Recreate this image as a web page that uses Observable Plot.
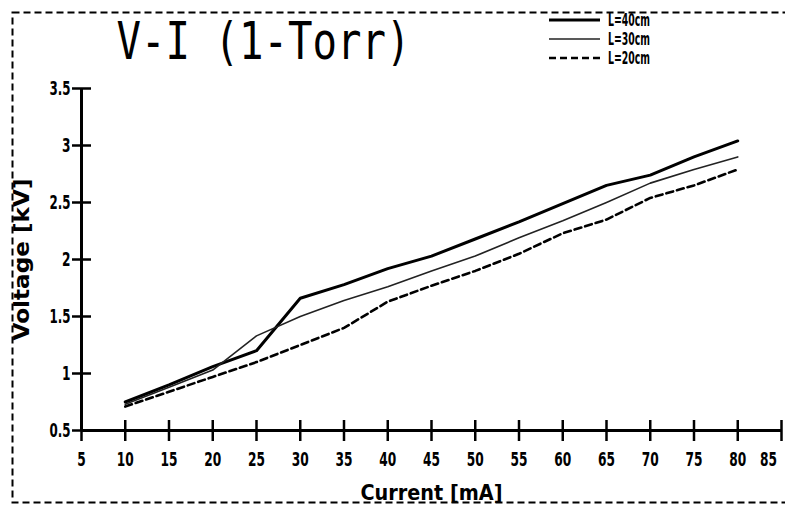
<!DOCTYPE html>
<html>
<head>
<meta charset="utf-8">
<script src="https://cdn.jsdelivr.net/npm/d3@7"></script>
<script src="https://cdn.jsdelivr.net/npm/@observablehq/plot@0.6"></script>
<style>
  html, body { margin: 0; padding: 0; background: #fff; }
  #chart { position: relative; width: 785px; height: 506px; }
</style>
</head>
<body>
<div id="chart"></div>
<script>
const currents = [10, 15, 20, 25, 30, 35, 40, 45, 50, 55, 60, 65, 70, 75, 80];
const v40 = [0.75, 0.90, 1.06, 1.20, 1.66, 1.78, 1.92, 2.03, 2.18, 2.33, 2.49, 2.65, 2.74, 2.90, 3.04];
const v30 = [0.73, 0.88, 1.03, 1.33, 1.50, 1.64, 1.76, 1.90, 2.03, 2.19, 2.34, 2.50, 2.67, 2.79, 2.90];
const v20 = [0.71, 0.84, 0.97, 1.10, 1.25, 1.40, 1.63, 1.77, 1.90, 2.05, 2.23, 2.35, 2.54, 2.65, 2.79];
const seriesNames = ["L=40cm", "L=30cm", "L=20cm"];
const xTicks = [5, 10, 15, 20, 25, 30, 35, 40, 45, 50, 55, 60, 65, 70, 75, 80, 85];
const yTicks = [0.5, 1, 1.5, 2, 2.5, 3, 3.5];
const titleText = "V-I (1-Torr)";
const xLabel = "Current [mA]";
const yLabel = "Voltage [kV]";

const styles = {
  "L=40cm": {strokeWidth: 3, stroke: "#000", dash: null},
  "L=30cm": {strokeWidth: 1.6, stroke: "#222", dash: null},
  "L=20cm": {strokeWidth: 2.6, stroke: "#000", dash: "7,4"}
};
const valuesBySeries = {"L=40cm": v40, "L=30cm": v30, "L=20cm": v20};
const rows = name => currents.map((c, i) => ({current: c, voltage: valuesBySeries[name][i], series: name}));

const boldFont = "'DejaVu Sans', sans-serif";

const plot = Plot.plot({
  width: 785,
  height: 506,
  marginLeft: 81,
  marginRight: 4,
  marginTop: 88,
  marginBottom: 76,
  style: {fontFamily: boldFont},
  x: {domain: [5, 85]},
  y: {domain: [0.5, 3.5]},
  marks: [
    Plot.ruleY([0.5], {stroke: "#000", strokeWidth: 3}),
    Plot.ruleX([5], {stroke: "#000", strokeWidth: 3}),
    Plot.ruleX(xTicks, {x: d => d, y1: 0.5, y2: 0.5, insetTop: -10, insetBottom: -11, stroke: "#000", strokeWidth: 2.5}),
    Plot.ruleY(yTicks, {y: d => d, x1: 5, x2: 5, insetLeft: -9, insetRight: -10, stroke: "#000", strokeWidth: 2.5}),
    Plot.axisX({ticks: xTicks, tickSize: 0, tickPadding: 22, fontSize: 19, fontWeight: "bold", label: null, tickFormat: d => String(d)}),
    Plot.axisY({ticks: yTicks, tickSize: 0, tickPadding: 11, fontSize: 19, fontWeight: "bold", label: null, tickFormat: d => String(d)}),
    ...seriesNames.map(name => Plot.line(rows(name), {
      x: "current", y: "voltage",
      stroke: styles[name].stroke, strokeWidth: styles[name].strokeWidth,
      strokeDasharray: styles[name].dash, strokeLinejoin: "round"
    })),
    Plot.text([xLabel], {frameAnchor: "bottom", dy: 69, fontSize: 22, fontWeight: "bold", textAnchor: "middle"}),
    Plot.text([yLabel], {frameAnchor: "left", dx: -59, rotate: -90, fontSize: 21, fontWeight: "bold", textAnchor: "middle"}),
    Plot.text([titleText], {frameAnchor: "top-left", dx: 35, dy: -30, lineAnchor: "bottom", textAnchor: "start",
      fontSize: 52, fontFamily: "'DejaVu Sans Mono', monospace", fontWeight: "normal"}),
    Plot.frame({insetLeft: -69, insetTop: -76, insetBottom: -72, insetRight: -12, stroke: "#000", strokeWidth: 2, strokeDasharray: "7,4"})
  ]
});

const svg = d3.select(plot);

// condense glyphs like the original plotter font
const widthOf = s => [...s].reduce((w, c) => w + (c === "." ? 4 : 8.5), 0);
svg.selectAll("[aria-label='x-axis tick label'] text, [aria-label='y-axis tick label'] text").each(function() {
  d3.select(this).attr("textLength", widthOf(this.textContent)).attr("lengthAdjust", "spacingAndGlyphs");
});
const xl = svg.selectAll("[aria-label='x-axis tick label'] text").nodes();
if (xl.length) d3.select(xl[xl.length - 1]).attr("dx", -13);
const texts = svg.selectAll("g[aria-label='text'] text").nodes();
const byContent = s => texts.filter(t => t.textContent === s);
byContent(titleText).forEach(t => d3.select(t).attr("textLength", 294).attr("lengthAdjust", "spacingAndGlyphs"));
byContent(xLabel).forEach(t => d3.select(t).attr("textLength", 142).attr("lengthAdjust", "spacingAndGlyphs"));
byContent(yLabel).forEach(t => d3.select(t).attr("textLength", 162).attr("lengthAdjust", "spacingAndGlyphs"));

// legend
const lg = svg.append("g").attr("class", "legend");
seriesNames.forEach((name, i) => {
  const y = 20 + i * 19;
  lg.append("line").attr("x1", 549).attr("x2", 600).attr("y1", y).attr("y2", y)
    .attr("stroke", styles[name].stroke).attr("stroke-width", styles[name].strokeWidth)
    .attr("stroke-dasharray", styles[name].dash);
  lg.append("text").attr("x", 608).attr("y", y).attr("dy", "0.35em")
    .attr("text-anchor", "start")
    .attr("font-family", boldFont).attr("font-weight", "bold").attr("font-size", 17)
    .attr("textLength", 42).attr("lengthAdjust", "spacingAndGlyphs")
    .text(name);
});

document.getElementById("chart").appendChild(plot);
</script>
</body>
</html>
